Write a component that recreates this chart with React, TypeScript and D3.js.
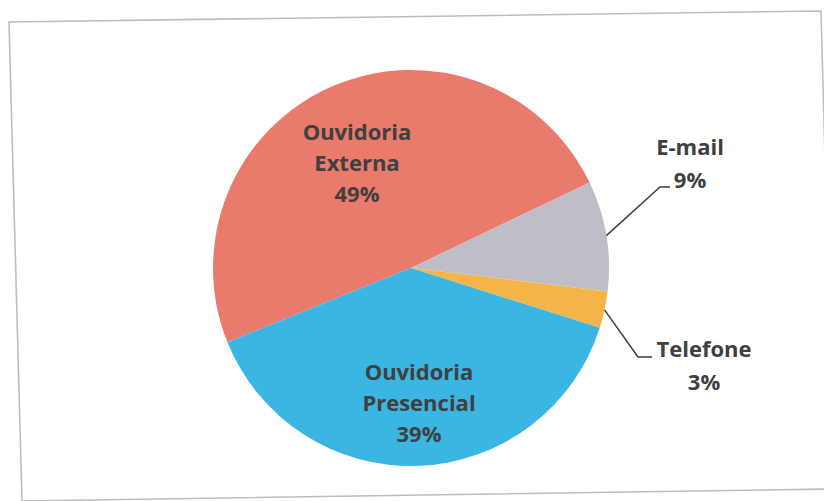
import React from "react";
import * as d3 from "d3";

const categories = ["Ouvidoria Externa", "E-mail", "Telefone", "Ouvidoria Presencial"];
const values = [49, 9, 3, 39];
const labelLines = [["Ouvidoria", "Externa"], ["E-mail"], ["Telefone"], ["Ouvidoria", "Presencial"]];
const colors = ["#E97A6C", "#BEBDC8", "#F3B54A", "#3BB5E2"];

const W = 824;
const H = 501;
const cx = 411;
const cy = 268;
const R = 198;

export default function App() {
  const pie = d3
    .pie<number>()
    .sort(null)
    .startAngle((-112 * Math.PI) / 180)
    .endAngle((248 * Math.PI) / 180);
  const arcs = pie(values);
  const arc = d3.arc<d3.PieArcDatum<number>>().innerRadius(0).outerRadius(R);
  const total = d3.sum(values);
  const pct = (v: number) => `${Math.round((v / total) * 100)}%`;

  const inside: Record<number, [number, number]> = { 0: [357, 140], 3: [419, 380] };
  const outside: Record<number, { x: number; y: number; bend: [number, number]; end: [number, number] }> = {
    1: { x: 690, y: 155, bend: [660, 187], end: [670, 187] },
    2: { x: 704, y: 357, bend: [638, 357], end: [652, 357] },
  };
  const lh = 31;

  const frame = [
    [9, 22],
    [821, 11],
    [834, 489],
    [22, 501],
  ];

  return (
    <svg width={W} height={H} style={{ position: "absolute", left: 0, top: 0, background: "#fff" }}>
      <rect x={0} y={0} width={W} height={H} fill="#ffffff" />
      <polygon
        points={frame.map((p) => p.join(",")).join(" ")}
        fill="none"
        stroke="#bdbdbd"
        strokeWidth={1.6}
      />
      <g transform={`translate(${cx},${cy})`}>
        {arcs.map((a, i) => (
          <path key={categories[i]} d={arc(a) || ""} fill={colors[i]} />
        ))}
      </g>
      <g fontFamily="'Open Sans', sans-serif" fontWeight={700} fontSize={22} fill="#404040" textAnchor="middle">
        {arcs.map((a, i) => {
          const lines = [...labelLines[i], pct(values[i])];
          if (inside[i]) {
            const [x, y] = inside[i];
            return (
              <text key={i}>
                {lines.map((t, k) => (
                  <tspan key={k} x={x} y={y + k * lh}>
                    {t}
                  </tspan>
                ))}
              </text>
            );
          }
          const o = outside[i];
          const mid = (a.startAngle + a.endAngle) / 2;
          const sx = cx + R * Math.sin(mid);
          const sy = cy - R * Math.cos(mid);
          return (
            <g key={i}>
              <polyline
                points={`${sx},${sy} ${o.bend[0]},${o.bend[1]} ${o.end[0]},${o.end[1]}`}
                fill="none"
                stroke="#404040"
                strokeWidth={1.5}
              />
              <text>
                {lines.map((t, k) => (
                  <tspan key={k} x={o.x} y={o.y + k * 33}>
                    {t}
                  </tspan>
                ))}
              </text>
            </g>
          );
        })}
      </g>
    </svg>
  );
}
